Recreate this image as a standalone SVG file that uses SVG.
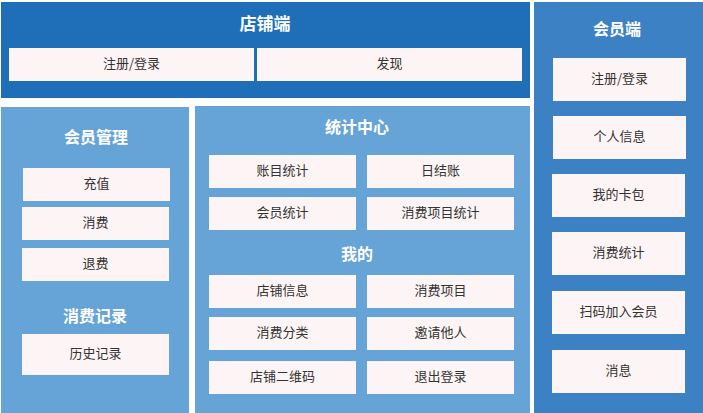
<svg xmlns="http://www.w3.org/2000/svg" width="703" height="413" viewBox="0 0 703 413">
<style>
.t{font-family:"Noto Sans CJK SC","Noto Sans",sans-serif;font-weight:bold;fill:#fff;text-anchor:middle;dominant-baseline:central}
.b{fill:#fdf5f5}
.l{font-family:"Noto Sans CJK SC","Noto Sans",sans-serif;font-size:13px;fill:#333;text-anchor:middle;dominant-baseline:central}
</style>
<rect width="703" height="413" fill="#fff"/>
<g id="shop">
<rect x="1" y="2" width="529" height="96" fill="#1f6fb8"/>
<text class="t" x="265" y="22" font-size="17">店铺端</text>
<g id="shop-login"><rect class="b" x="9" y="48" width="245" height="33"/><text class="l" x="131.5" y="62.5">注册/登录</text></g>
<g id="shop-discover"><rect class="b" x="257" y="48" width="265" height="33"/><text class="l" x="389.5" y="62.5">发现</text></g>
</g>
<g id="member-mgmt">
<rect x="1" y="107" width="188" height="306" fill="#66a3d6"/>
<text class="t" x="96" y="136" font-size="16">会员管理</text>
<g id="recharge"><rect class="b" x="23" y="168" width="147" height="33"/><text class="l" x="96.5" y="182.5">充值</text></g>
<g id="consume"><rect class="b" x="22" y="207" width="147" height="33"/><text class="l" x="95.5" y="221.5">消费</text></g>
<g id="refund"><rect class="b" x="22" y="248" width="147" height="33"/><text class="l" x="95.5" y="262.5">退费</text></g>
<text class="t" x="95" y="315" font-size="16">消费记录</text>
<g id="history"><rect class="b" x="22" y="334" width="147" height="41"/><text class="l" x="95.5" y="352.5">历史记录</text></g>
</g>
<g id="stats">
<rect x="195" y="106" width="335" height="307" fill="#66a3d6"/>
<text class="t" x="357" y="126" font-size="16">统计中心</text>
<g id="acct-stats"><rect class="b" x="209" y="155" width="147" height="33"/><text class="l" x="282.5" y="169.5">账目统计</text></g>
<g id="daily"><rect class="b" x="367" y="155" width="147" height="33"/><text class="l" x="440.5" y="169.5">日结账</text></g>
<g id="member-stats"><rect class="b" x="209" y="197" width="147" height="33"/><text class="l" x="282.5" y="211.5">会员统计</text></g>
<g id="item-stats"><rect class="b" x="367" y="197" width="147" height="33"/><text class="l" x="440.5" y="211.5">消费项目统计</text></g>
<text class="t" x="357" y="253" font-size="16">我的</text>
<g id="shop-info"><rect class="b" x="209" y="275" width="147" height="33"/><text class="l" x="282.5" y="289.5">店铺信息</text></g>
<g id="items"><rect class="b" x="367" y="275" width="147" height="33"/><text class="l" x="440.5" y="289.5">消费项目</text></g>
<g id="category"><rect class="b" x="209" y="317" width="147" height="33"/><text class="l" x="282.5" y="331.5">消费分类</text></g>
<g id="invite"><rect class="b" x="367" y="317" width="147" height="33"/><text class="l" x="440.5" y="331.5">邀请他人</text></g>
<g id="qrcode"><rect class="b" x="209" y="361" width="147" height="33"/><text class="l" x="282.5" y="375.5">店铺二维码</text></g>
<g id="logout"><rect class="b" x="367" y="361" width="147" height="33"/><text class="l" x="440.5" y="375.5">退出登录</text></g>
</g>
<g id="member">
<rect x="534" y="2" width="169" height="411" fill="#3b81c3"/>
<text class="t" x="617" y="28" font-size="16">会员端</text>
<g id="m-login"><rect class="b" x="553" y="58" width="133" height="43"/><text class="l" x="619.5" y="77.5">注册/登录</text></g>
<g id="m-info"><rect class="b" x="553" y="116" width="133" height="43"/><text class="l" x="619.5" y="135.5">个人信息</text></g>
<g id="m-cards"><rect class="b" x="552" y="174" width="133" height="43"/><text class="l" x="618.5" y="193.5">我的卡包</text></g>
<g id="m-stats"><rect class="b" x="552" y="232" width="133" height="43"/><text class="l" x="618.5" y="251.5">消费统计</text></g>
<g id="m-join"><rect class="b" x="552" y="291" width="133" height="43"/><text class="l" x="618.5" y="310.5">扫码加入会员</text></g>
<g id="m-msg"><rect class="b" x="552" y="350" width="133" height="43"/><text class="l" x="618.5" y="369.5">消息</text></g>
</g>
<g id="connectors"/>
</svg>
